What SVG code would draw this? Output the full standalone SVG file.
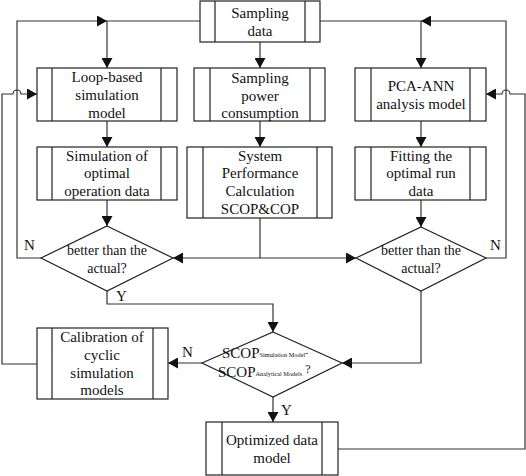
<svg xmlns="http://www.w3.org/2000/svg" width="526" height="476" viewBox="0 0 526 476">
<defs>
<marker id="ah" markerUnits="userSpaceOnUse" markerWidth="11" markerHeight="11" refX="10" refY="5.5" orient="auto">
<path d="M0,0 L10,5.5 L0,11 Z" fill="#111"/>
</marker>
<style>
.b{fill:#fff;stroke:#222;stroke-width:1.2}
.l{fill:none;stroke:#222;stroke-width:1.2}
.c{fill:none;stroke:#333;stroke-width:1.2}
text{font-family:'Liberation Serif','DejaVu Serif',serif;fill:#111}
.t{font-size:15px;text-anchor:middle}
.d{font-size:14px;text-anchor:middle}
.s{font-size:15px}
.lab{font-size:15px}
</style>
</defs>
<rect width="526" height="476" fill="#fff"/>

<g id="connectors">
<path class="c" d="M41,258 H17 V21 H107" marker-end="url(#ah)"/>
<path class="c" d="M200,21 H107 V68" marker-end="url(#ah)"/>
<path class="c" d="M486,258 H506 V21 H421" marker-end="url(#ah)"/>
<path class="c" d="M320,21 H421 V68" marker-end="url(#ah)"/>
<path class="c" d="M260,42 V68" marker-end="url(#ah)"/>
<path class="c" d="M260,121 V147" marker-end="url(#ah)"/>
<path class="c" d="M107,121 V147" marker-end="url(#ah)"/>
<path class="c" d="M421,121 V147" marker-end="url(#ah)"/>
<path class="c" d="M107,200 V226" marker-end="url(#ah)"/>
<path class="c" d="M421,200 V227" marker-end="url(#ah)"/>
<path class="c" d="M260,218 V258 H173" marker-end="url(#ah)"/>
<path class="c" d="M260,258 H356" marker-end="url(#ah)"/>
<path class="c" d="M107,291 V304 H273 V332" marker-end="url(#ah)"/>
<path class="c" d="M421,291 V363 H342" marker-end="url(#ah)"/>
<path class="c" d="M202,363 H168" marker-end="url(#ah)"/>
<path class="c" d="M273,397 V422" marker-end="url(#ah)"/>
<path class="c" d="M37,364 H2 V94 H13 A4,4 0 0 1 21,94 H37" marker-end="url(#ah)"/>
<path class="c" d="M338,449 H525 V94 H510 A4,4 0 0 0 502,94 H486" marker-end="url(#ah)"/>
<text class="lab" x="24" y="250">N</text>
<text class="lab" x="490" y="250">N</text>
<text class="lab" x="116" y="301">Y</text>
<text class="lab" x="281" y="415">Y</text>
<text class="lab" x="182" y="357">N</text>
</g>

<g id="sampling-data">
<rect class="b" x="200" y="1" width="120" height="41"/>
<path class="l" d="M215,1 V42 M305,1 V42"/>
<text class="t" x="260" y="18">Sampling</text>
<text class="t" x="260" y="36">data</text>
</g>

<g id="loop-model">
<rect class="b" x="37" y="68" width="140" height="53"/>
<path class="l" d="M52,68 V121 M161,68 V121"/>
<text class="t" x="107" y="82">Loop-based</text>
<text class="t" x="107" y="100">simulation</text>
<text class="t" x="107" y="118">model</text>
</g>

<g id="sampling-power">
<rect class="b" x="194" y="68" width="131" height="53"/>
<path class="l" d="M210,68 V121 M310,68 V121"/>
<text class="t" x="260" y="83">Sampling</text>
<text class="t" x="260" y="101">power</text>
<text class="t" x="260" y="118">consumption</text>
</g>

<g id="pca-ann">
<rect class="b" x="355" y="68" width="131" height="53"/>
<path class="l" d="M371,68 V121 M470,68 V121"/>
<text class="t" x="421" y="91">PCA-ANN</text>
<text class="t" x="421" y="109">analysis model</text>
</g>

<g id="sim-optimal">
<rect class="b" x="37" y="147" width="140" height="53"/>
<path class="l" d="M52,147 V200 M161,147 V200"/>
<text class="t" x="107" y="161">Simulation of</text>
<text class="t" x="107" y="178">optimal</text>
<text class="t" x="107" y="196">operation data</text>
</g>

<g id="system-performance">
<rect class="b" x="187" y="147" width="145" height="71"/>
<path class="l" d="M203,147 V218 M317,147 V218"/>
<text class="t" x="260" y="161">System</text>
<text class="t" x="260" y="178">Performance</text>
<text class="t" x="260" y="196">Calculation</text>
<text class="t" x="260" y="214">SCOP&amp;COP</text>
</g>

<g id="fitting">
<rect class="b" x="355" y="147" width="131" height="53"/>
<path class="l" d="M371,147 V200 M470,147 V200"/>
<text class="t" x="421" y="161">Fitting the</text>
<text class="t" x="421" y="178">optimal run</text>
<text class="t" x="421" y="196">data</text>
</g>

<g id="decision-left">
<path class="b" d="M107,226 L173,258 L107,291 L41,258 Z"/>
<text class="d" x="107" y="255">better than the</text>
<text class="d" x="107" y="273">actual?</text>
</g>

<g id="decision-right">
<path class="b" d="M421,227 L486,258 L421,291 L356,258 Z"/>
<text class="d" x="421" y="255">better than the</text>
<text class="d" x="421" y="273">actual?</text>
</g>

<g id="decision-scop">
<path class="b" d="M273,332 L342,363 L273,397 L202,363 Z"/>
<text class="s" x="222" y="358">SCOP<tspan font-size="6.3" dy="-1">Simulation Model</tspan><tspan font-size="9" dy="-1">-</tspan></text>
<text class="s" x="218" y="377">SCOP<tspan font-size="6.3" dy="-1">Analytical Models</tspan><tspan font-size="12" dy="-3"> ?</tspan></text>
</g>

<g id="calibration">
<rect class="b" x="37" y="328" width="131" height="71"/>
<path class="l" d="M52,328 V399 M153,328 V399"/>
<text class="t" x="102" y="342">Calibration of</text>
<text class="t" x="102" y="360">cyclic</text>
<text class="t" x="102" y="378">simulation</text>
<text class="t" x="102" y="395">models</text>
</g>

<g id="optimized">
<rect class="b" x="206" y="422" width="132" height="53"/>
<path class="l" d="M222,422 V475 M322,422 V475"/>
<text class="t" x="272" y="445">Optimized data</text>
<text class="t" x="272" y="463">model</text>
</g>
</svg>
